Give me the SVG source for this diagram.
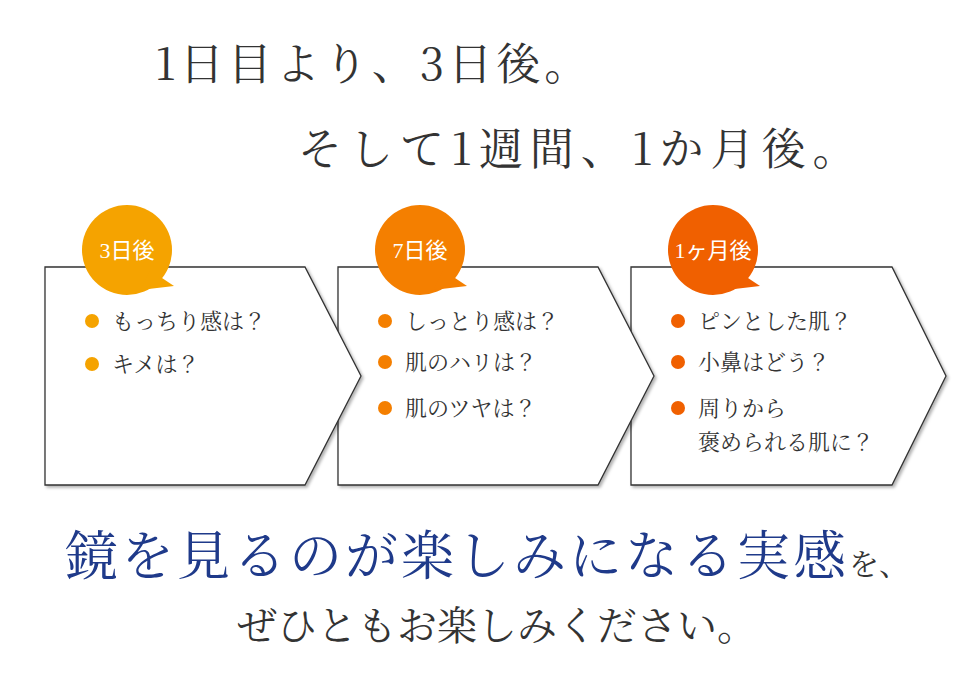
<svg xmlns="http://www.w3.org/2000/svg" width="980" height="678" viewBox="0 0 980 678">
<style>
.box{fill:#fff;stroke:#333;stroke-width:1.3}
.t{font-family:"Noto Serif CJK JP","Liberation Serif","Noto Sans CJK JP",serif;fill:#333}
.it{font-size:22px}
.bt{font-size:22px;fill:#fff;font-family:"Liberation Serif","Noto Sans CJK JP",serif}
</style>
<defs><filter id="sh" x="-5%" y="-5%" width="115%" height="115%"><feDropShadow dx="2" dy="2" stdDeviation="1.5" flood-opacity="0.3"/></filter></defs>
<text class="t" x="155" y="80" font-size="44" letter-spacing="4">1日目より、3日後。</text>
<text class="t" x="298" y="165" font-size="44" letter-spacing="7">そして1週間、1か月後。</text>
<g id="connectors"></g>
<g id="n3">
<polygon class="box" filter="url(#sh)" points="631,267 892,267 946,376 892,485 631,485"/>
<circle cx="713" cy="250" r="45" fill="#f06000"/><polygon points="736,270 760,286 726,290" fill="#f06000"/>
<text class="bt" x="713" y="258" text-anchor="middle">1ヶ月後</text>
<circle cx="678" cy="321" r="7" fill="#f06000"/><circle cx="678" cy="362" r="7" fill="#f06000"/><circle cx="678" cy="408" r="7" fill="#f06000"/>
<text class="t it" x="698" y="329">ピンとした肌？</text>
<text class="t it" x="698" y="370">小鼻はどう？</text>
<text class="t it" x="698" y="416">周りから</text>
<text class="t it" x="698" y="450">褒められる肌に？</text>
</g>
<g id="n2">
<polygon class="box" filter="url(#sh)" points="338,267 598,267 654,376 598,485 338,485"/>
<circle cx="420" cy="250" r="45" fill="#f47f00"/><polygon points="443,270 467,286 433,290" fill="#f47f00"/>
<text class="bt" x="420" y="258" text-anchor="middle">7日後</text>
<circle cx="385" cy="321" r="7" fill="#f47f00"/><circle cx="385" cy="362" r="7" fill="#f47f00"/><circle cx="385" cy="408" r="7" fill="#f47f00"/>
<text class="t it" x="405" y="329">しっとり感は？</text>
<text class="t it" x="405" y="370">肌のハリは？</text>
<text class="t it" x="405" y="416">肌のツヤは？</text>
</g>
<g id="n1">
<polygon class="box" filter="url(#sh)" points="45,267 305,267 361,376 305,485 45,485"/>
<circle cx="127" cy="250" r="45" fill="#f5a300"/><polygon points="150,270 174,286 140,290" fill="#f5a300"/>
<text class="bt" x="127" y="258" text-anchor="middle">3日後</text>
<circle cx="92" cy="321" r="7" fill="#f5a300"/><circle cx="92" cy="364" r="7" fill="#f5a300"/>
<text class="t it" x="112" y="329">もっちり感は？</text>
<text class="t it" x="112" y="372">キメは？</text>
</g>
<text class="t" x="65" y="575" font-size="53" letter-spacing="3" style="fill:#1f3a8a">鏡を見るのが楽しみになる実感<tspan font-size="30" letter-spacing="0" style="fill:#333">を、</tspan></text>
<text class="t" x="237" y="640" font-size="40">ぜひともお楽しみください。</text>
</svg>
